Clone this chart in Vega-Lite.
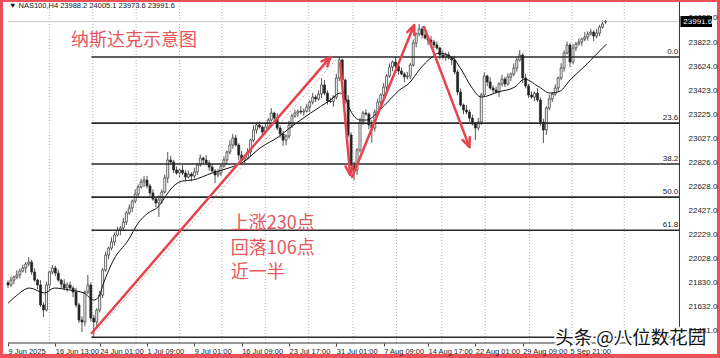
{
"$schema":"https://vega.github.io/schema/vega-lite/v6.json",
"width":714,"height":352,
"autosize":{"type":"none"},
"padding":{"left":3,"top":2,"right":3,"bottom":4},
"background":"#ee5057",
"config":{"view":{"fill":"white","stroke":null},"font":"Liberation Sans"},
"resolve":{"axis":{"x":"independent","y":"independent"}},
"datasets":{
"candles":[
{"i":1,"o":21830,"h":21848,"l":21786,"c":21811},{"i":2,"o":21811,"h":21882,"l":21797,"c":21852},{"i":3,"o":21852,"h":21889,"l":21817,"c":21877},{"i":4,"o":21877,"h":21934,"l":21859,"c":21894},{"i":5,"o":21894,"h":21949,"l":21864,"c":21927},{"i":6,"o":21927,"h":21980,"l":21915,"c":21952},{"i":7,"o":21952,"h":22000,"l":21910,"c":21985},{"i":8,"o":21985,"h":22043,"l":21965,"c":22001},{"i":9,"o":22001,"h":22019,"l":21894,"c":21919},{"i":10,"o":21919,"h":21949,"l":21838,"c":21852},
{"i":11,"o":21852,"h":21864,"l":21776,"c":21811},{"i":12,"o":21811,"h":21851,"l":21628,"c":21646},{"i":13,"o":21646,"h":21668,"l":21546,"c":21604},{"i":14,"o":21604,"h":21839,"l":21592,"c":21811},{"i":15,"o":21811,"h":21934,"l":21769,"c":21919},{"i":16,"o":21919,"h":21977,"l":21899,"c":21952},{"i":17,"o":21952,"h":21970,"l":21885,"c":21910},{"i":18,"o":21910,"h":21940,"l":21838,"c":21852},{"i":19,"o":21852,"h":21864,"l":21784,"c":21819},{"i":20,"o":21819,"h":21859,"l":21768,"c":21786},
{"i":21,"o":21786,"h":21833,"l":21756,"c":21811},{"i":22,"o":21811,"h":21839,"l":21774,"c":21786},{"i":23,"o":21786,"h":21801,"l":21711,"c":21753},{"i":24,"o":21753,"h":21788,"l":21626,"c":21646},{"i":25,"o":21646,"h":21664,"l":21496,"c":21521},{"i":26,"o":21521,"h":21551,"l":21422,"c":21505},{"i":27,"o":21505,"h":21765,"l":21470,"c":21753},{"i":28,"o":21753,"h":21894,"l":21735,"c":21811},{"i":29,"o":21811,"h":21833,"l":21508,"c":21538},{"i":30,"o":21538,"h":21566,"l":21379,"c":21505},
{"i":31,"o":21505,"h":21619,"l":21463,"c":21604},{"i":32,"o":21604,"h":21763,"l":21584,"c":21728},{"i":33,"o":21728,"h":21953,"l":21703,"c":21935},{"i":34,"o":21935,"h":22089,"l":21921,"c":22059},{"i":35,"o":22059,"h":22129,"l":22024,"c":22117},{"i":36,"o":22117,"h":22207,"l":22099,"c":22167},{"i":37,"o":22167,"h":22247,"l":22137,"c":22225},{"i":38,"o":22225,"h":22294,"l":22213,"c":22266},{"i":39,"o":22266,"h":22298,"l":22224,"c":22283},{"i":40,"o":22283,"h":22368,"l":22263,"c":22333},
{"i":41,"o":22333,"h":22425,"l":22308,"c":22407},{"i":42,"o":22407,"h":22479,"l":22393,"c":22449},{"i":43,"o":22449,"h":22518,"l":22414,"c":22506},{"i":44,"o":22506,"h":22604,"l":22488,"c":22564},{"i":45,"o":22564,"h":22644,"l":22534,"c":22622},{"i":46,"o":22622,"h":22692,"l":22610,"c":22664},{"i":47,"o":22664,"h":22713,"l":22622,"c":22680},{"i":48,"o":22680,"h":22715,"l":22611,"c":22631},{"i":49,"o":22631,"h":22649,"l":22548,"c":22573},{"i":50,"o":22573,"h":22603,"l":22509,"c":22523},
{"i":51,"o":22523,"h":22535,"l":22455,"c":22490},{"i":52,"o":22490,"h":22555,"l":22374,"c":22515},{"i":53,"o":22515,"h":22603,"l":22485,"c":22581},{"i":54,"o":22581,"h":22725,"l":22569,"c":22697},{"i":55,"o":22697,"h":22912,"l":22655,"c":22846},{"i":56,"o":22846,"h":22881,"l":22809,"c":22829},{"i":57,"o":22829,"h":22847,"l":22738,"c":22763},{"i":58,"o":22763,"h":22793,"l":22724,"c":22738},{"i":59,"o":22738,"h":22775,"l":22703,"c":22763},{"i":60,"o":22763,"h":22803,"l":22720,"c":22738},
{"i":61,"o":22738,"h":22760,"l":22675,"c":22705},{"i":62,"o":22705,"h":22758,"l":22693,"c":22730},{"i":63,"o":22730,"h":22745,"l":22671,"c":22713},{"i":64,"o":22713,"h":22782,"l":22693,"c":22747},{"i":65,"o":22747,"h":22822,"l":22722,"c":22804},{"i":66,"o":22804,"h":22892,"l":22790,"c":22862},{"i":67,"o":22862,"h":22874,"l":22811,"c":22846},{"i":68,"o":22846,"h":22886,"l":22803,"c":22821},{"i":69,"o":22821,"h":22843,"l":22758,"c":22788},{"i":70,"o":22788,"h":22816,"l":22743,"c":22755},
{"i":71,"o":22755,"h":22770,"l":22655,"c":22722},{"i":72,"o":22722,"h":22773,"l":22702,"c":22738},{"i":73,"o":22738,"h":22814,"l":22713,"c":22796},{"i":74,"o":22796,"h":22876,"l":22782,"c":22846},{"i":75,"o":22846,"h":22924,"l":22811,"c":22912},{"i":76,"o":22912,"h":23010,"l":22894,"c":22970},{"i":77,"o":22970,"h":23061,"l":22940,"c":23028},{"i":78,"o":23028,"h":23056,"l":22958,"c":22970},{"i":79,"o":22970,"h":22985,"l":22845,"c":22887},{"i":80,"o":22887,"h":22922,"l":22826,"c":22846},
{"i":81,"o":22846,"h":22880,"l":22821,"c":22862},{"i":82,"o":22862,"h":22942,"l":22848,"c":22912},{"i":83,"o":22912,"h":23023,"l":22877,"c":23011},{"i":84,"o":23011,"h":23134,"l":22993,"c":23094},{"i":85,"o":23094,"h":23158,"l":23064,"c":23136},{"i":86,"o":23136,"h":23164,"l":23107,"c":23119},{"i":87,"o":23119,"h":23134,"l":23036,"c":23078},{"i":88,"o":23078,"h":23154,"l":23058,"c":23119},{"i":89,"o":23119,"h":23195,"l":23094,"c":23177},{"i":90,"o":23177,"h":23276,"l":23163,"c":23235},
{"i":91,"o":23235,"h":23247,"l":23158,"c":23193},{"i":92,"o":23193,"h":23233,"l":23093,"c":23111},{"i":93,"o":23111,"h":23133,"l":23031,"c":23061},{"i":94,"o":23061,"h":23089,"l":22962,"c":23011},{"i":95,"o":23011,"h":23059,"l":22969,"c":23044},{"i":96,"o":23044,"h":23171,"l":23024,"c":23136},{"i":97,"o":23136,"h":23228,"l":23111,"c":23210},{"i":98,"o":23210,"h":23265,"l":23196,"c":23235},{"i":99,"o":23235,"h":23263,"l":23200,"c":23251},{"i":100,"o":23251,"h":23291,"l":23225,"c":23243},
{"i":101,"o":23243,"h":23273,"l":23213,"c":23251},{"i":102,"o":23251,"h":23312,"l":23239,"c":23284},{"i":103,"o":23284,"h":23341,"l":23242,"c":23326},{"i":104,"o":23326,"h":23402,"l":23306,"c":23367},{"i":105,"o":23367,"h":23385,"l":23326,"c":23351},{"i":106,"o":23351,"h":23422,"l":23337,"c":23392},{"i":107,"o":23392,"h":23525,"l":23357,"c":23467},{"i":108,"o":23467,"h":23507,"l":23382,"c":23400},{"i":109,"o":23400,"h":23422,"l":23304,"c":23334},{"i":110,"o":23334,"h":23362,"l":23318,"c":23330},
{"i":111,"o":23330,"h":23382,"l":23288,"c":23367},{"i":112,"o":23367,"h":23560,"l":23347,"c":23525},{"i":113,"o":23525,"h":23699,"l":23500,"c":23674},{"i":114,"o":23674,"h":23686,"l":23494,"c":23508},{"i":115,"o":23508,"h":23520,"l":23308,"c":23343},{"i":116,"o":23343,"h":23383,"l":23035,"c":23053},{"i":117,"o":23053,"h":23075,"l":22774,"c":22804},{"i":118,"o":22804,"h":22832,"l":22680,"c":22763},{"i":119,"o":22763,"h":22944,"l":22721,"c":22929},{"i":120,"o":22929,"h":23195,"l":22909,"c":23160},
{"i":121,"o":23160,"h":23253,"l":23135,"c":23235},{"i":122,"o":23235,"h":23265,"l":23213,"c":23227},{"i":123,"o":23227,"h":23239,"l":23101,"c":23136},{"i":124,"o":23136,"h":23176,"l":22987,"c":23111},{"i":125,"o":23111,"h":23265,"l":23081,"c":23243},{"i":126,"o":23243,"h":23354,"l":23231,"c":23326},{"i":127,"o":23326,"h":23399,"l":23284,"c":23384},{"i":128,"o":23384,"h":23485,"l":23364,"c":23450},{"i":129,"o":23450,"h":23559,"l":23425,"c":23541},{"i":130,"o":23541,"h":23646,"l":23527,"c":23616},
{"i":131,"o":23616,"h":23669,"l":23581,"c":23657},{"i":132,"o":23657,"h":23697,"l":23606,"c":23624},{"i":133,"o":23624,"h":23646,"l":23553,"c":23583},{"i":134,"o":23583,"h":23611,"l":23546,"c":23558},{"i":135,"o":23558,"h":23573,"l":23491,"c":23533},{"i":136,"o":23533,"h":23575,"l":23513,"c":23540},{"i":137,"o":23540,"h":23650,"l":23515,"c":23632},{"i":138,"o":23632,"h":23844,"l":23618,"c":23814},{"i":139,"o":23814,"h":23901,"l":23779,"c":23889},{"i":140,"o":23889,"h":23972,"l":23871,"c":23930},
{"i":141,"o":23930,"h":23952,"l":23851,"c":23881},{"i":142,"o":23881,"h":23909,"l":23844,"c":23856},{"i":143,"o":23856,"h":23871,"l":23797,"c":23839},{"i":144,"o":23839,"h":23874,"l":23803,"c":23823},{"i":145,"o":23823,"h":23841,"l":23773,"c":23798},{"i":146,"o":23798,"h":23828,"l":23759,"c":23773},{"i":147,"o":23773,"h":23785,"l":23680,"c":23715},{"i":148,"o":23715,"h":23755,"l":23680,"c":23698},{"i":149,"o":23698,"h":23737,"l":23668,"c":23715},{"i":150,"o":23715,"h":23743,"l":23678,"c":23690},
{"i":151,"o":23690,"h":23705,"l":23632,"c":23674},{"i":152,"o":23674,"h":23709,"l":23554,"c":23574},{"i":153,"o":23574,"h":23592,"l":23384,"c":23409},{"i":154,"o":23409,"h":23439,"l":23287,"c":23301},{"i":155,"o":23301,"h":23313,"l":23225,"c":23260},{"i":156,"o":23260,"h":23300,"l":23225,"c":23243},{"i":157,"o":23243,"h":23265,"l":23163,"c":23193},{"i":158,"o":23193,"h":23221,"l":23132,"c":23144},{"i":159,"o":23144,"h":23159,"l":23011,"c":23111},{"i":160,"o":23111,"h":23195,"l":23091,"c":23160},
{"i":161,"o":23160,"h":23402,"l":23135,"c":23384},{"i":162,"o":23384,"h":23571,"l":23370,"c":23541},{"i":163,"o":23541,"h":23553,"l":23457,"c":23492},{"i":164,"o":23492,"h":23532,"l":23424,"c":23442},{"i":165,"o":23442,"h":23464,"l":23395,"c":23425},{"i":166,"o":23425,"h":23453,"l":23397,"c":23409},{"i":167,"o":23409,"h":23490,"l":23367,"c":23475},{"i":168,"o":23475,"h":23551,"l":23455,"c":23516},{"i":169,"o":23516,"h":23534,"l":23450,"c":23475},{"i":170,"o":23475,"h":23563,"l":23461,"c":23533},
{"i":171,"o":23533,"h":23570,"l":23498,"c":23558},{"i":172,"o":23558,"h":23647,"l":23540,"c":23607},{"i":173,"o":23607,"h":23696,"l":23577,"c":23674},{"i":174,"o":23674,"h":23756,"l":23662,"c":23715},{"i":175,"o":23715,"h":23730,"l":23483,"c":23525},{"i":176,"o":23525,"h":23560,"l":23439,"c":23459},{"i":177,"o":23459,"h":23477,"l":23359,"c":23384},{"i":178,"o":23384,"h":23414,"l":23353,"c":23367},{"i":179,"o":23367,"h":23412,"l":23332,"c":23400},{"i":180,"o":23400,"h":23440,"l":23325,"c":23343},
{"i":181,"o":23343,"h":23365,"l":23130,"c":23160},{"i":182,"o":23160,"h":23188,"l":22987,"c":23094},{"i":183,"o":23094,"h":23291,"l":23052,"c":23276},{"i":184,"o":23276,"h":23386,"l":23256,"c":23351},{"i":185,"o":23351,"h":23410,"l":23326,"c":23392},{"i":186,"o":23392,"h":23472,"l":23378,"c":23442},{"i":187,"o":23442,"h":23537,"l":23407,"c":23525},{"i":188,"o":23525,"h":23647,"l":23507,"c":23607},{"i":189,"o":23607,"h":23754,"l":23577,"c":23732},{"i":190,"o":23732,"h":23826,"l":23720,"c":23798},
{"i":191,"o":23798,"h":23813,"l":23615,"c":23657},{"i":192,"o":23657,"h":23808,"l":23637,"c":23773},{"i":193,"o":23773,"h":23824,"l":23748,"c":23806},{"i":194,"o":23806,"h":23853,"l":23792,"c":23823},{"i":195,"o":23823,"h":23859,"l":23788,"c":23847},{"i":196,"o":23847,"h":23904,"l":23829,"c":23864},{"i":197,"o":23864,"h":23911,"l":23834,"c":23889},{"i":198,"o":23889,"h":23933,"l":23877,"c":23905},{"i":199,"o":23905,"h":23920,"l":23830,"c":23872},{"i":200,"o":23872,"h":23932,"l":23852,"c":23897},
{"i":201,"o":23897,"h":23965,"l":23872,"c":23947},{"i":202,"o":23947,"h":24002,"l":23933,"c":23972},{"i":203,"o":23988.2,"h":24005.1,"l":23973.6,"c":23991.6}
],
"ma":[
{"i":1,"p":21660},{"i":3.33,"p":21712},{"i":8.33,"p":21786},{"i":13.33,"p":21745},{"i":16.67,"p":21786},{"i":21.67,"p":21770},{"i":26.67,"p":21745},{"i":30,"p":21687},{"i":31.67,"p":21712},{"i":33.33,"p":21828},{"i":36.67,"p":22018},{"i":41.67,"p":22183},{"i":45,"p":22324},{"i":48.33,"p":22407},{"i":51.67,"p":22456},{"i":55,"p":22572},{"i":56.67,"p":22622},{"i":60,"p":22672},{"i":63.33,"p":22680},{"i":70,"p":22738},{"i":76.67,"p":22788},{"i":80,"p":22821},{"i":86.67,"p":22953},{"i":92.33,"p":23036},{"i":96.67,"p":23119},{"i":103.33,"p":23235},{"i":110,"p":23343},{"i":113.33,"p":23400},{"i":115,"p":23359},{"i":116.67,"p":23260},{"i":120,"p":23177},{"i":122.33,"p":23177},{"i":126.67,"p":23260},{"i":130,"p":23343},{"i":133.33,"p":23425},{"i":136.67,"p":23483},{"i":140,"p":23591},{"i":144.33,"p":23698},{"i":146.67,"p":23731},{"i":151,"p":23698},{"i":154.33,"p":23591},{"i":157.67,"p":23450},{"i":161,"p":23367},{"i":166.67,"p":23409},{"i":172.33,"p":23450},{"i":175.67,"p":23516},{"i":180,"p":23459},{"i":184.33,"p":23400},{"i":187.67,"p":23417},{"i":191,"p":23508},{"i":195.67,"p":23616},{"i":200,"p":23723},{"i":203.33,"p":23806}
],
"fib":[{"lv":"0.0","p":23699},{"lv":"23.6","p":23151},{"lv":"38.2","p":22813},{"lv":"50.0","p":22539},{"lv":"61.8","p":22265},{"lv":"100.0","p":21379}],
"diag":[{"i":29.2,"p":21379},{"i":112.67,"p":23699}],
"arrows":[{"id":1,"i":29.33,"p":21414,"i2":110,"p2":23698},{"id":2,"i":113.33,"p":23649,"i2":116.67,"p2":22722},{"id":3,"i":117.33,"p":22705,"i2":138.33,"p2":23963},{"id":4,"i":141.67,"p":23947,"i2":157,"p2":22953}],
"grid":[{"i":15},{"i":29.67},{"i":44.33},{"i":59},{"i":73.33},{"i":88},{"i":102.67},{"i":117.67},{"i":132.33},{"i":147.67},{"i":162.33},{"i":177.33},{"i":191.67},{"i":209.33}],
"notes":[{"t":"纳斯达克示意图","i":22.33,"p":23831},{"t":"上涨230点","i":76.33,"p":22316},{"t":"回落106点","i":76.33,"p":22109},{"t":"近一半","i":76.33,"p":21910}],
"header":[{"t":"▼ NAS100,H4  23988.2 24005.1 23973.6 23991.6"}],
"last":[{"p":23991.6}],
"wm":[{"t":"头条 @八位数花园"}]
},
"layer":[
{"data":{"name":"candles"},"mark":{"type":"rule","stroke":"#555","strokeWidth":1},
 "encoding":{
  "x":{"field":"i","type":"quantitative","scale":{"domain":[1,239],"nice":false,"zero":false},
   "axis":{"orient":"bottom","offset":-11,"title":null,"grid":false,"domain":false,"zindex":1,
    "values":[1,17,32,48,64,80,96,112,128,143,159,175,191],
    "labelExpr":"['9 Jun 2025','16 Jun 13:00','24 Jun 01:00','1 Jul 09:00','9 Jul 01:00','16 Jul 09:00','23 Jul 17:00','31 Jul 01:00','7 Aug 09:00','14 Aug 17:00','22 Aug 01:00','29 Aug 09:00','5 Sep 21:00'][indexof([1,17,32,48,64,80,96,112,128,143,159,175,191], datum.value)]",
    "labelAlign":"left","labelFont":"Liberation Sans","labelFontSize":7.5,"labelColor":"#222","tickSize":3,"tickColor":"#444","labelPadding":1,"labelOverlap":false,"labelBound":false,"labelFlush":false}},
  "y":{"field":"l","type":"quantitative","scale":{"domain":[21240,24154],"nice":false,"zero":false},
   "axis":{"orient":"right","offset":-33,"title":null,"grid":false,"domain":false,"zindex":1,"ticks":false,
    "values":[21431,21632,21830,22028,22229,22427,22628,22826,23027,23225,23423,23624,23822,24023],
    "format":".1f","labelFont":"Liberation Sans","labelFontSize":8,"labelColor":"#222","labelPadding":4,"labelOverlap":false,"labelBound":false,"labelFlush":false}},
  "y2":{"field":"h"}}},
{"data":{"name":"grid"},"mark":{"type":"rule","stroke":"#b5b5b5","strokeWidth":1,"strokeDash":[1,2]},
 "encoding":{"x":{"field":"i","type":"quantitative","axis":null},"y":{"datum":21331,"type":"quantitative","axis":null},"y2":{"datum":24154}}},
{"data":{"name":"last"},"mark":{"type":"rule","stroke":"#c8c8c8","strokeWidth":1},
 "encoding":{"y":{"field":"p","type":"quantitative","axis":null},"x":{"datum":1,"type":"quantitative","axis":null},"x2":{"datum":228}}},
{"data":{"name":"diag"},"mark":{"type":"line","stroke":"#d9a0a0","strokeWidth":1,"strokeDash":[2,2]},
 "encoding":{"x":{"field":"i","type":"quantitative","axis":null},"y":{"field":"p","type":"quantitative","axis":null}}},
{"data":{"name":"candles"},"mark":{"type":"bar","width":2,"stroke":"#2a2a2a","strokeWidth":0.7},
 "encoding":{"x":{"field":"i","type":"quantitative","axis":null},"y":{"field":"o","type":"quantitative","axis":null},"y2":{"field":"c"},
  "fill":{"condition":{"test":"datum.c >= datum.o","value":"#ffffff"},"value":"#222222"}}},
{"data":{"name":"ma"},"mark":{"type":"line","stroke":"#111","strokeWidth":1,"interpolate":"monotone","clip":true},
 "encoding":{"x":{"field":"i","type":"quantitative","axis":null},"y":{"field":"p","type":"quantitative","axis":null}}},
{"data":{"name":"fib"},"mark":{"type":"rule","stroke":"#2a2a2a","strokeWidth":1.6},
 "encoding":{"y":{"field":"p","type":"quantitative","axis":null},"x":{"datum":29.2,"type":"quantitative","axis":null},"x2":{"datum":228}}},
{"data":{"name":"fib"},"transform":[{"filter":"datum.lv != '100.0'"}],"mark":{"type":"text","align":"right","baseline":"bottom","dy":-1,"fontSize":8,"font":"Liberation Sans","fill":"#222"},
 "encoding":{"y":{"field":"p","type":"quantitative","axis":null},"x":{"datum":227.6,"type":"quantitative","axis":null},"text":{"field":"lv"}}},
{"data":{"name":"arrows"},"mark":{"type":"rule","stroke":"#e8434d","strokeWidth":2.5,"strokeCap":"round"},
 "encoding":{"x":{"field":"i","type":"quantitative","axis":null},"y":{"field":"p","type":"quantitative","axis":null},"x2":{"field":"i2"},"y2":{"field":"p2"}}},
{"data":{"name":"arrows"},"mark":{"type":"point","shape":"M-1.1,2.6L0,0L1.1,2.6","filled":false,"stroke":"#e8434d","strokeWidth":2.5,"size":49,"opacity":1,"strokeCap":"round","strokeJoin":"round"},
 "encoding":{"x":{"field":"i2","type":"quantitative","axis":null},"y":{"field":"p2","type":"quantitative","axis":null},
  "angle":{"condition":[{"test":"datum.id == 1","value":41},{"test":"datum.id == 2","value":175},{"test":"datum.id == 3","value":22}],"value":159}}},
{"data":{"name":"notes"},"mark":{"type":"text","align":"left","baseline":"middle","font":"Noto Sans CJK SC","fontSize":18,"fill":"#e5575d"},
 "encoding":{"x":{"field":"i","type":"quantitative","axis":null},"y":{"field":"p","type":"quantitative","axis":null},"text":{"field":"t"}}},
{"data":{"name":"header"},"mark":{"type":"text","align":"left","baseline":"middle","font":"Liberation Sans","fontSize":7.5,"fill":"#111"},
 "encoding":{"x":{"datum":1.33,"type":"quantitative","axis":null},"y":{"datum":24117,"type":"quantitative","axis":null},"text":{"field":"t"}}},
{"data":{"name":"last"},"mark":{"type":"rect","fill":"#000"},
 "encoding":{"x":{"datum":228.33,"type":"quantitative","axis":null},"x2":{"datum":239},"y":{"datum":24038,"type":"quantitative","axis":null},"y2":{"datum":23947}}},
{"data":{"name":"last"},"mark":{"type":"text","align":"left","baseline":"middle","font":"Liberation Sans","fontSize":8,"fill":"#fff"},
 "encoding":{"x":{"datum":229.3,"type":"quantitative","axis":null},"y":{"field":"p","type":"quantitative","axis":null},"text":{"field":"p","format":".1f"}}},
{"data":{"name":"last"},"mark":{"type":"rule","stroke":"#333","strokeWidth":1},
 "encoding":{"x":{"datum":228,"type":"quantitative","axis":null},"y":{"datum":21331,"type":"quantitative","axis":null},"y2":{"datum":24154}}},
{"data":{"name":"last"},"mark":{"type":"rule","stroke":"#333","strokeWidth":1},
 "encoding":{"y":{"datum":21331,"type":"quantitative","axis":null},"x":{"datum":1,"type":"quantitative","axis":null},"x2":{"datum":228}}},
{"data":{"name":"wm"},"mark":{"type":"text","align":"left","baseline":"middle","font":"Noto Sans CJK SC","fontSize":18.5,"fill":"#fff","stroke":"#fff","strokeWidth":4,"strokeJoin":"round"},
 "encoding":{"x":{"datum":186,"type":"quantitative","axis":null},"y":{"datum":21372,"type":"quantitative","axis":null},"text":{"field":"t"}}},
{"data":{"name":"wm"},"mark":{"type":"text","align":"left","baseline":"middle","font":"Noto Sans CJK SC","fontSize":18.5,"fill":"#111"},
 "encoding":{"x":{"datum":186,"type":"quantitative","axis":null},"y":{"datum":21372,"type":"quantitative","axis":null},"text":{"field":"t"}}}
]
}
